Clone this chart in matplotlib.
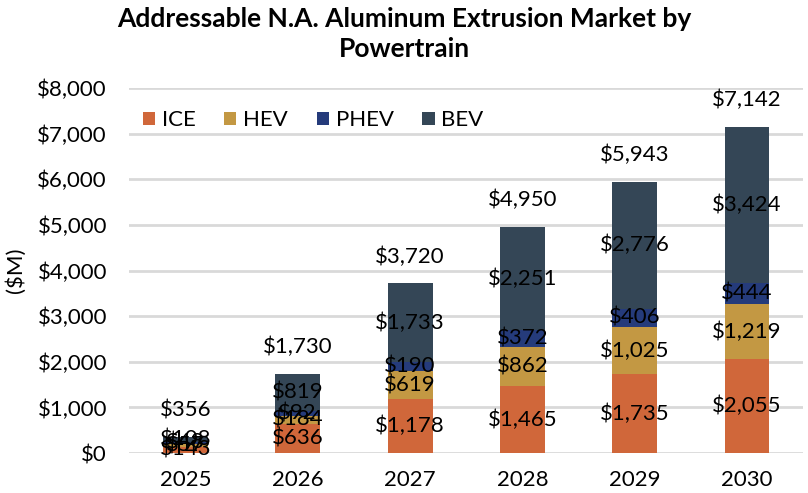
import numpy as np
import matplotlib.pyplot as plt
from matplotlib.ticker import FuncFormatter

years = ['2025', '2026', '2027', '2028', '2029', '2030']
ice = [143, 636, 1178, 1465, 1735, 2055]
hev = [57, 184, 619, 862, 1025, 1219]
phev = [48, 92, 190, 372, 406, 444]
bev = [108, 819, 1733, 2251, 2776, 3424]
totals = [356, 1730, 3720, 4950, 5943, 7142]

series = [('ICE', ice, '#D0673A'), ('HEV', hev, '#C39843'),
          ('PHEV', phev, '#253B7B'), ('BEV', bev, '#344656')]

plt.rcParams['font.family'] = ['Lato', 'DejaVu Sans']

fig = plt.figure(figsize=(8.08, 4.93), dpi=100)
ax = fig.add_axes([0.16, 0.081, 0.834, 0.7405])

x = np.arange(len(years))
bottom = np.zeros(len(years))
for name, vals, col in series:
    vals = np.array(vals, dtype=float)
    ax.bar(x, vals, 0.4, bottom=bottom, color=col, label=name, zorder=3)
    for xi, b, v in zip(x, bottom, vals):
        ax.text(xi, b + v / 2, '${:,.0f}'.format(v), ha='center', va='center',
                fontsize=16, color='black', zorder=4)
    bottom += vals

for xi, t in zip(x, totals):
    ax.annotate('${:,.0f}'.format(t), (xi, t), xytext=(0, 12),
                textcoords='offset points', ha='center', va='bottom',
                fontsize=16, color='black')

ax.set_xlim(-0.5, 5.5)
ax.set_ylim(0, 8000)
ax.set_yticks(np.arange(0, 8001, 1000))
ax.yaxis.set_major_formatter(FuncFormatter(lambda v, p: '${:,.0f}'.format(v)))
ax.set_xticks(x)
ax.set_xticklabels(years)
ax.tick_params(axis='both', length=0, labelsize=16)
ax.tick_params(axis='x', pad=12)
ax.tick_params(axis='y', pad=16)
ax.grid(axis='y', color='#D9D9D9', linewidth=2, zorder=0)
for s in ax.spines.values():
    s.set_visible(False)

ax.set_ylabel('($M)', fontsize=16, labelpad=8)

fig.suptitle('Addressable N.A. Aluminum Extrusion Market by\nPowertrain',
             x=0.5, y=0.985, fontsize=19, fontweight='bold', linespacing=1.3)

leg = ax.legend(loc='upper left', ncol=4, frameon=False, fontsize=16,
                bbox_to_anchor=(0.0, 0.975), handlelength=0.55, handleheight=0.55,
                handletextpad=0.3, columnspacing=1.3, borderaxespad=0.2)

fig.savefig('out.png', dpi=100)
